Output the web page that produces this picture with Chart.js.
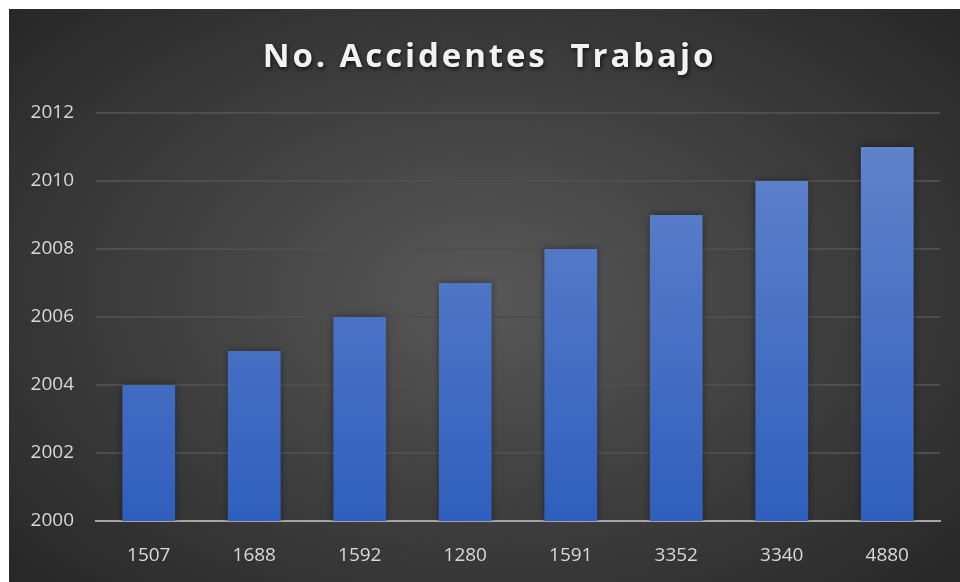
<!DOCTYPE html>
<html>
<head>
<meta charset="utf-8">
<script src="https://cdn.jsdelivr.net/npm/chart.js@4/dist/chart.umd.min.js"></script>
<style>
  html, body { margin: 0; padding: 0; background: #fff; }
  #wrap {
    position: absolute; left: 9px; top: 9px; width: 951px; height: 573px;
    background: radial-gradient(ellipse 70% 75% at 50% 50%, #585858 0%, #3c3c3c 55%, #262626 100%);
  }
</style>
</head>
<body>
<div id="wrap"><canvas id="main-chart" width="951" height="573"></canvas></div>
<script>
// data
const categories = ['1507', '1688', '1592', '1280', '1591', '3352', '3340', '4880'];
const years = [2004, 2005, 2006, 2007, 2008, 2009, 2010, 2011];
const chart_title = 'No. Accidentes  Trabajo';

// title drawn by hand so it can be letter-spaced and shadowed
const title_plugin = {
    id: 'spaced_title',
    afterDraw(chart) {
        const ctx = chart.ctx;
        ctx.save();
        ctx.font = 'bold 33px "Open Sans"';
        ctx.letterSpacing = '2.9px';
        ctx.fillStyle = '#f2f2f2';
        ctx.textAlign = 'center';
        ctx.textBaseline = 'middle';
        ctx.shadowColor = 'rgba(0,0,0,0.7)';
        ctx.shadowBlur = 4;
        ctx.shadowOffsetX = 1;
        ctx.shadowOffsetY = 2;
        ctx.fillText(chart_title, chart.width / 2 + 5, 49);
        ctx.restore();
    }
};

const bar_shadow = {
    id: 'bar_shadow',
    beforeDatasetsDraw(chart) {
        const ctx = chart.ctx;
        ctx.save();
        ctx.shadowColor = 'rgba(0,0,0,0.45)';
        ctx.shadowBlur = 7;
    },
    afterDatasetsDraw(chart) {
        chart.ctx.restore();
    }
};

function bar_fill(context) {
    const area = context.chart.chartArea;
    if (!area) return '#4472c4';
    const g = context.chart.ctx.createLinearGradient(0, area.top, 0, area.bottom);
    g.addColorStop(0, '#6486cc');
    g.addColorStop(1, '#2f5fbd');
    return g;
}

new Chart(document.getElementById('main-chart'), {
    type: 'bar',
    data: {
        labels: categories,
        datasets: [{
            label: 'Año',
            data: years,
            backgroundColor: bar_fill,
            borderWidth: 0,
            categoryPercentage: 1,
            barPercentage: 0.5,
        }],
    },
    options: {
        responsive: false,
        animation: false,
        layout: { padding: { top: 104, right: 20, bottom: 16, left: 0 } },
        plugins: {
            legend: { display: false },
            title: { display: false },
            tooltip: { enabled: false },
        },
        scales: {
            x: {
                grid: { display: false },
                border: { display: true, color: '#a6a6a6', width: 2 },
                ticks: { color: '#d9d9d9', font: { family: 'Open Sans', size: 19 }, padding: 15 },
                afterFit(scale) { scale.height = 45; },
            },
            y: {
                min: 2000,
                max: 2012,
                ticks: {
                    stepSize: 2, color: '#d9d9d9', font: { family: 'Open Sans', size: 19 }, padding: 22,
                    callback: v => String(v),
                },
                grid: { color: '#4e4e4e', lineWidth: 2, drawTicks: false },
                border: { display: false },
                afterFit(scale) { scale.width = 87; },
            },
        },
    },
    plugins: [title_plugin, bar_shadow],
});
</script>
</body>
</html>
